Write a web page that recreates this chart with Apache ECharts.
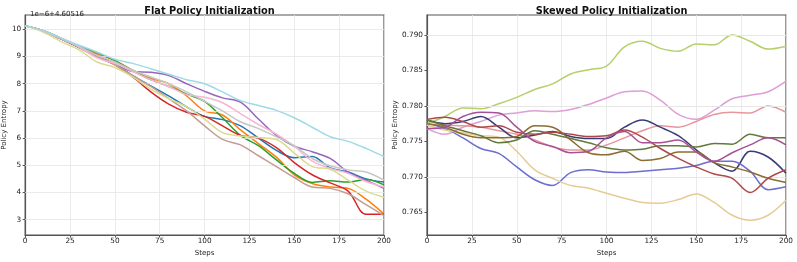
<!DOCTYPE html>
<html><head><meta charset="utf-8">
<script src="https://cdn.jsdelivr.net/npm/echarts@6/dist/echarts.min.js"></script>
<style>html,body{margin:0;padding:0;background:#fff}#c{width:797px;height:262px}</style>
</head><body><div id="c"></div>
<script>
var steps = [0,10,20,30,40,50,60,70,80,90,100,110,120,130,140,150,160,170,180,190,200];

// Flat policy (values shown as offset: value*1e-6 + 4.60516)
var flatColors = ['#1f77b4','#ff7f0e','#2ca02c','#d62728','#9467bd','#c49c94','#f7b6d2','#c7c7c7','#dbdb8d','#9edae5'];
var flatBlue   = [10.13,9.95,9.65,9.35,9.0,8.72,8.3,7.92,7.55,7.15,6.8,6.68,6.45,6.0,5.55,5.28,5.32,4.9,4.75,4.5,4.38];
var flatOrange = [10.13,9.95,9.68,9.35,9.1,8.85,8.5,8.2,8.0,7.55,7.0,6.85,6.3,5.8,5.3,4.65,4.33,4.2,4.15,3.75,3.2];
var flatGreen  = [10.13,9.95,9.67,9.38,9.15,8.85,8.48,8.15,7.9,7.62,7.35,6.75,6.1,5.72,5.2,4.7,4.37,4.43,4.38,4.48,4.28];
var flatRed    = [10.13,9.95,9.65,9.35,9.05,8.7,8.25,7.7,7.25,6.95,6.8,6.45,6.1,6.0,5.65,5.1,4.65,4.35,4.05,3.2,3.2];
var flatPurple = [10.13,9.95,9.65,9.33,8.98,8.72,8.45,8.42,8.3,8.0,7.72,7.48,7.32,6.7,6.1,5.7,5.5,5.25,4.75,4.45,4.15];
var flatBrown  = [10.13,9.95,9.65,9.35,9.0,8.7,8.3,7.9,7.45,7.0,6.45,5.95,5.75,5.35,4.95,4.55,4.2,4.15,3.95,3.55,3.15];
var flatPink   = [10.13,9.95,9.66,9.35,8.95,8.75,8.45,8.15,7.9,7.6,7.5,7.3,6.9,6.5,6.15,5.7,5.15,4.88,4.7,4.4,4.2];
var flatGray   = [10.13,9.95,9.67,9.38,9.05,8.8,8.5,8.25,8.0,7.7,7.35,7.0,6.6,6.35,6.05,5.72,5.25,4.98,4.83,4.75,4.45];
var flatOlive  = [10.13,9.9,9.55,9.25,8.8,8.6,8.25,7.8,7.45,7.15,6.7,6.2,6.08,6.02,5.95,5.45,4.95,4.85,4.45,4.05,3.82];
var flatCyan   = [10.13,9.95,9.68,9.42,9.17,8.9,8.75,8.55,8.35,8.15,8.0,7.7,7.38,7.2,7.02,6.75,6.4,6.05,5.88,5.62,5.32];
var flatSeries = [flatBlue,flatOrange,flatGreen,flatRed,flatPurple,flatBrown,flatPink,flatGray,flatOlive,flatCyan];
var flatTicks = [3,4,5,6,7,8,9,10];

// Skewed policy
var skewColors = ['#b5cf6b','#de9ed6','#e7969c','#393b79','#6b6ecf','#e7cb94','#637939','#8c6d31','#ad494a','#a55194'];
var skewLime    = [0.7775,0.7785,0.7797,0.7796,0.7803,0.7812,0.7823,0.7831,0.7845,0.7851,0.7856,0.7883,0.7891,0.7881,0.7877,0.7887,0.7886,0.7900,0.7891,0.7880,0.7884];
var skewOrchid  = [0.7768,0.7760,0.7770,0.7778,0.7787,0.7790,0.7793,0.7792,0.7795,0.7802,0.7811,0.7820,0.7821,0.7808,0.7788,0.7781,0.7794,0.7810,0.7815,0.7820,0.7835];
var skewSalmon  = [0.7775,0.7773,0.7772,0.7770,0.7765,0.7760,0.7752,0.7742,0.7738,0.7738,0.7745,0.7755,0.7765,0.7772,0.7770,0.7778,0.7788,0.7791,0.7790,0.7800,0.7791];
var skewNavy    = [0.7780,0.7775,0.7778,0.7785,0.7770,0.7755,0.7759,0.7764,0.7757,0.7754,0.7754,0.7770,0.7780,0.7770,0.7758,0.7738,0.7720,0.7708,0.7736,0.7728,0.7705];
var skewBlue    = [0.7775,0.7768,0.7755,0.7740,0.7733,0.7714,0.7696,0.7688,0.7706,0.7710,0.7707,0.7706,0.7708,0.7710,0.7712,0.7716,0.7722,0.7722,0.7708,0.7682,0.7686];
var skewTan     = [0.7773,0.7766,0.7762,0.7758,0.7756,0.7736,0.7710,0.7698,0.7688,0.7684,0.7677,0.7670,0.7664,0.7663,0.7668,0.7676,0.7664,0.7646,0.7639,0.7646,0.7667];
var skewOlive   = [0.7780,0.7772,0.7765,0.7758,0.7748,0.7752,0.7765,0.7760,0.7754,0.7748,0.7741,0.7738,0.7739,0.7744,0.7744,0.7742,0.7747,0.7746,0.7760,0.7755,0.7755];
var skewBrown   = [0.7775,0.7770,0.7760,0.7755,0.7755,0.7757,0.7772,0.7770,0.7752,0.7734,0.7731,0.7736,0.7723,0.7726,0.7735,0.7735,0.7720,0.7714,0.7707,0.7698,0.7692];
var skewDarkRed = [0.7781,0.7784,0.7778,0.7770,0.7772,0.7763,0.7760,0.7763,0.7760,0.7757,0.7758,0.7766,0.7756,0.7740,0.7726,0.7714,0.7704,0.7698,0.7678,0.7698,0.7710];
var skewMagenta = [0.7768,0.7770,0.7785,0.7791,0.7790,0.7770,0.7750,0.7743,0.7734,0.7736,0.7755,0.7764,0.7748,0.7748,0.7752,0.7735,0.7722,0.7734,0.7745,0.7755,0.7745];
var skewSeries = [skewLime,skewOrchid,skewSalmon,skewNavy,skewBlue,skewTan,skewOlive,skewBrown,skewDarkRed,skewMagenta];
var skewTicks = [0.765,0.770,0.775,0.780,0.785,0.790];

var FONT = 'DejaVu Sans';
function pairs(arr){ return arr.map(function(v,i){ return [steps[i], v]; }); }

function xAxis(gi){
  return {type:'value', gridIndex:gi, min:0, max:200, interval:25,
    name:'Steps', nameLocation:'middle', nameGap:12,
    nameTextStyle:{fontFamily:FONT,fontSize:7,color:'#222'},
    axisLine:{show:true,onZero:false,lineStyle:{color:'#555',width:1.2}},
    axisTick:{show:true,length:2.5,lineStyle:{color:'#555'}},
    axisLabel:{fontFamily:FONT,fontSize:7.3,color:'#222',margin:3},
    splitLine:{show:true,lineStyle:{color:'#e6e6e6',width:0.8}}};
}
function yAxis(gi,min,max,ticks,fmt){
  return {type:'value', gridIndex:gi, min:min, max:max,
    name:'Policy Entropy', nameLocation:'middle', nameGap: gi===0?13:23, nameRotate:90,
    nameTextStyle:{fontFamily:FONT,fontSize:7,color:'#222'},
    axisLine:{show:true,onZero:false,lineStyle:{color:'#555',width:1.2}},
    axisTick:{show:true,length:2.5,lineStyle:{color:'#555'},customValues:ticks},
    axisLabel:{fontFamily:FONT,fontSize:7.3,color:'#222',margin:4,customValues:ticks,formatter:fmt},
    splitLine:{show:false}};
}

var series = [];
flatSeries.forEach(function(arr,i){
  series.push({type:'line',xAxisIndex:0,yAxisIndex:0,data:pairs(arr),smooth:0.35,showSymbol:false,
    lineStyle:{color:flatColors[i],width:1.5},itemStyle:{color:flatColors[i]},z:2+i});
});
skewSeries.forEach(function(arr,i){
  series.push({type:'line',xAxisIndex:1,yAxisIndex:1,data:pairs(arr),smooth:0.35,showSymbol:false,
    lineStyle:{color:skewColors[i],width:1.5},itemStyle:{color:skewColors[i]},z:2+i});
});

function hLines(ticks){ return ticks.map(function(t){ return {yAxis:t}; }); }
series.push({type:'line',xAxisIndex:0,yAxisIndex:0,data:[],markLine:{silent:true,symbol:'none',label:{show:false},lineStyle:{color:'#e6e6e6',width:0.8,type:'solid'},data:hLines(flatTicks)},z:1});
series.push({type:'line',xAxisIndex:1,yAxisIndex:1,data:[],markLine:{silent:true,symbol:'none',label:{show:false},lineStyle:{color:'#e6e6e6',width:0.8,type:'solid'},data:hLines(skewTicks)},z:1});

var chart = echarts.init(document.getElementById('c'),null,{renderer:'canvas'});
chart.setOption({
  animation:false,
  backgroundColor:'#fff',
  title:[
    {text:'Flat Policy Initialization',left:204.5,top:1,textAlign:'center',textStyle:{fontFamily:FONT,fontSize:9.8,fontWeight:'bold',color:'#111'}},
    {text:'Skewed Policy Initialization',left:606.5,top:1,textAlign:'center',textStyle:{fontFamily:FONT,fontSize:9.8,fontWeight:'bold',color:'#111'}},
    {text:'1e\u22126+4.60516',left:25,top:6,textStyle:{fontFamily:FONT,fontSize:7,fontWeight:'normal',color:'#222'}}
  ],
  grid:[
    {left:25,top:15,width:359,height:223,show:true,borderColor:'#555',borderWidth:1.2,backgroundColor:'transparent'},
    {left:427,top:15,width:359,height:223,show:true,borderColor:'#555',borderWidth:1.2,backgroundColor:'transparent'}
  ],
  xAxis:[xAxis(0),xAxis(1)],
  yAxis:[
    yAxis(0,2.43,10.53,flatTicks,function(v){return String(Math.round(v));}),
    yAxis(1,0.7618,0.7928,skewTicks,function(v){return v.toFixed(3);})
  ],
  series:series
});
</script></body></html>
